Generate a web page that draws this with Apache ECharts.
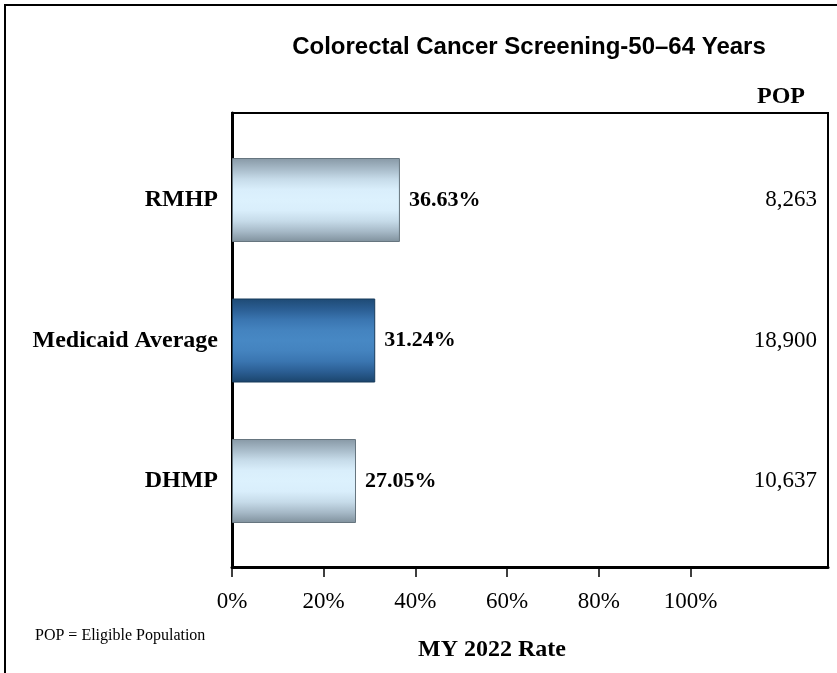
<!DOCTYPE html>
<html>
<head>
<meta charset="utf-8">
<script src="https://cdn.jsdelivr.net/npm/echarts@6/dist/echarts.min.js"></script>
<style>
  html, body { margin: 0; padding: 0; background: #fff; }
  #rate-chart-container { width: 837px; height: 673px; }
</style>
</head>
<body>
<div id="rate-chart-container"></div>
<script>
// 数据
const categories = ['RMHP', 'Medicaid Average', 'DHMP'];
const rates = [36.63, 31.24, 27.05];
const popValues = ['8,263', '18,900', '10,637'];
const xTicks = [0, 20, 40, 60, 80, 100];

const serif = "'Liberation Serif', 'Times New Roman', serif";

function barGradient(stops) {
  return new echarts.graphic.LinearGradient(0, 0, 0, 1, stops.map(function (c, i) {
    return { offset: i / (stops.length - 1), color: c };
  }));
}

const lightStyle = {
  color: barGradient(['#8798a5', '#a6b9c7', '#c6dbe9', '#d9eefb', '#dcf1fd', '#d9eefb', '#c6dbe9', '#a6b9c7', '#7f909c']),
  borderColor: '#66757f',
  borderWidth: 1
};
const darkStyle = {
  color: barGradient(['#1e4a74', '#2a5d92', '#3a75b0', '#4483bf', '#4788c4', '#4483bf', '#3a75b0', '#2a5d92', '#1a446b']),
  borderColor: '#173a5a',
  borderWidth: 1
};

var rateChart = echarts.init(document.getElementById('rate-chart-container'));

const rateOption = {
  animation: false,
  title: [
    {
      text: 'Colorectal Cancer Screening-50\u201364 Years',
      left: 524, top: 30, textAlign: 'center',
      textStyle: { fontFamily: "'Liberation Sans', Arial, sans-serif", fontWeight: 'bold', fontSize: 24, color: '#000' }
    },
    {
      text: 'POP',
      right: 27, top: 80,
      textStyle: { fontFamily: serif, fontWeight: 'bold', fontSize: 24, color: '#000' }
    },
    {
      text: 'POP = Eligible Population',
      left: 30, top: 623,
      textStyle: { fontFamily: serif, fontWeight: 'normal', fontSize: 16, color: '#000' }
    },
    {
      text: 'MY 2022 Rate',
      left: 487, top: 633, textAlign: 'center',
      textStyle: { fontFamily: serif, fontWeight: 'bold', fontSize: 24, color: '#000' }
    }
  ],
  // 外框
  graphic: [
    {
      type: 'polyline',
      shape: { points: [[5, 673], [5, 5], [837, 5]] },
      style: { stroke: '#000', lineWidth: 2, fill: null }
    }
  ],
  grid: [
    // 边框和坐标轴
    { left: 232, right: 9, top: 113, bottom: 106, show: true, borderColor: '#000', borderWidth: 2 },
    // 柱子
    { left: 232, right: 9, top: 129.75, bottom: 121.75 }
  ],
  xAxis: [
    {
      gridIndex: 0, type: 'value', min: 0, max: 130, interval: 20,
      splitLine: { show: false },
      axisLine: { show: true, onZero: false, lineStyle: { color: '#000', width: 3 } },
      axisTick: { show: true, length: 10, customValues: xTicks, lineStyle: { color: '#000', width: 1.5 } },
      axisLabel: {
        customValues: xTicks, margin: 23,
        fontFamily: serif, fontSize: 23, color: '#000',
        formatter: function (v) { return v > 100 ? '' : v + '%'; }
      }
    },
    { gridIndex: 1, type: 'value', min: 0, max: 130, show: false }
  ],
  yAxis: [
    {
      gridIndex: 0, type: 'value', min: 0, max: 1,
      splitLine: { show: false }, axisTick: { show: false }, axisLabel: { show: false },
      axisLine: { show: true, lineStyle: { color: '#000', width: 3 } }
    },
    {
      gridIndex: 1, type: 'category', inverse: true, data: categories,
      axisLine: { show: false }, axisTick: { show: false },
      axisLabel: { margin: 14, fontFamily: serif, fontWeight: 'bold', fontSize: 24, color: '#000' }
    },
    {
      gridIndex: 1, type: 'category', inverse: true, data: categories, position: 'right',
      axisLine: { show: false }, axisTick: { show: false },
      axisLabel: {
        inside: true, margin: 11,
        fontFamily: serif, fontSize: 23, color: '#000',
        formatter: function (v, i) { return popValues[i]; }
      }
    }
  ],
  series: [
    {
      type: 'bar', xAxisIndex: 1, yAxisIndex: 1, barWidth: 84,
      data: rates.map(function (v, i) {
        return { value: v, itemStyle: i === 1 ? darkStyle : lightStyle };
      }),
      label: {
        show: true, position: 'right', distance: 9,
        fontFamily: serif, fontWeight: 'bold', fontSize: 22, color: '#000',
        formatter: function (p) { return p.value.toFixed(2) + '%'; }
      }
    }
  ]
};

// 渲染
rateChart.setOption(rateOption);
window.addEventListener("resize", () => {
  rateChart.resize();
});
</script>
</body>
</html>
